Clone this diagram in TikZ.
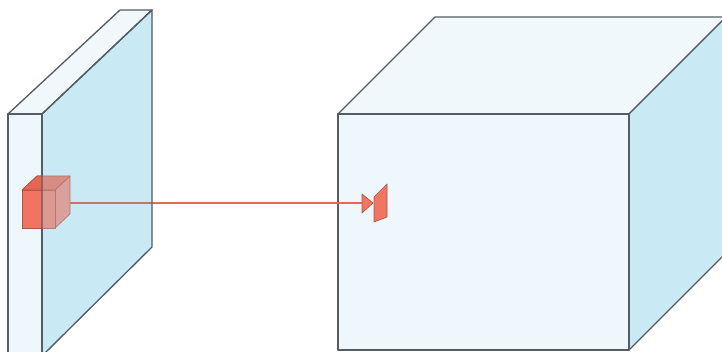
\documentclass[tikz,border=0pt]{standalone}
\definecolor{edgegray}{RGB}{85,92,98}
\definecolor{faceLight}{RGB}{238,247,251}
\definecolor{faceTop}{RGB}{240,248,252}
\definecolor{faceSide}{RGB}{201,233,245}
\definecolor{redFront}{RGB}{242,115,95}
\definecolor{redTop}{RGB}{234,100,84}
\definecolor{pinkFront}{RGB}{220,152,145}
\definecolor{pinkTop}{RGB}{214,140,130}
\definecolor{pinkSide}{RGB}{218,160,155}
\definecolor{pinkEdge}{RGB}{180,120,112}
\definecolor{redLine}{RGB}{225,105,85}
\definecolor{mutedLine}{RGB}{190,120,112}
\definecolor{kernelRed}{RGB}{240,118,98}
\tikzset{
  facebox/.style={draw=edgegray, line width=1pt, line join=round},
  redface/.style={draw=redLine!80!black, line width=0.5pt, line join=round},
  pinkface/.style={draw=pinkEdge, line width=0.5pt, line join=round},
  conn/.style={draw=redLine, line width=1pt},
  mutedconn/.style={draw=mutedLine, line width=1pt},
}
\begin{document}
\begin{tikzpicture}[x=0.75pt,y=-0.75pt]
\useasboundingbox (0,0) rectangle (722,352);
\clip (0,0) rectangle (722,352);
% ---------- left slab ----------
\coordinate (sA) at (8,114);
\coordinate (sB) at (42,114);
\coordinate (sC) at (152,10);
\coordinate (sD) at (120,10);
\coordinate (sE) at (42,356);
\coordinate (sF) at (8,356);
\coordinate (sG) at (152,247);
\fill[faceSide] (sB) -- (sC) -- (sG) -- (sE) -- cycle;
\filldraw[facebox, fill=faceTop] (sA) -- (sB) -- (sC) -- (sD) -- cycle;
\filldraw[facebox, fill=faceLight] (sA) -- (sB) -- (sE) -- (sF) -- cycle;
% ---------- small red cube ----------
\coordinate (c1) at (22,190);
\coordinate (c2) at (55,190);
\coordinate (c3) at (55,228);
\coordinate (c4) at (22,228);
\coordinate (c5) at (37,176);
\coordinate (c6) at (70,176);
\coordinate (c7) at (70,214);
\filldraw[pinkface, fill=pinkSide] (c2) -- (c6) -- (c7) -- (c3) -- cycle;
\filldraw[pinkface, fill=pinkTop] (c1) -- (c5) -- (c6) -- (c2) -- cycle;
\filldraw[pinkface, fill=pinkFront] (c1) -- (c2) -- (c3) -- (c4) -- cycle;
\begin{scope}
  \clip (0,0) rectangle (42,352);
  \filldraw[redface, fill=redTop] (c1) -- (c5) -- (c6) -- (c2) -- cycle;
  \filldraw[redface, fill=redFront] (c1) -- (c2) -- (c3) -- (c4) -- cycle;
\end{scope}
\coordinate (src) at (70,203);
\coordinate (slabx) at (152,203);
% ---------- kernel ----------
\coordinate (k1) at (362,194);
\coordinate (k2) at (362,213);
\coordinate (k3) at (373,203);
\coordinate (k4) at (374,197);
\coordinate (k5) at (387,184);
\coordinate (k6) at (387,217);
\coordinate (k7) at (374,222);
% ---------- big cube ----------
\coordinate (bA) at (338,114);
\coordinate (bB) at (629,114);
\coordinate (bC) at (629,350);
\coordinate (bD) at (338,350);
\coordinate (bE) at (435,17);
\coordinate (bF) at (726,17);
\coordinate (bG) at (726,253);
\filldraw[facebox, fill=faceTop] (bA) -- (bE) -- (bF) -- (bB) -- cycle;
\filldraw[facebox, fill=faceSide] (bB) -- (bF) -- (bG) -- (bC) -- cycle;
\filldraw[facebox, fill=faceLight] (bA) -- (bB) -- (bC) -- (bD) -- cycle;
% ---------- connector ----------
\draw[mutedconn] (src) -- (slabx);
\draw[conn] (slabx) -- (k1 |- src);
\filldraw[redface, fill=kernelRed] (k1) -- (k3) -- (k2) -- cycle;
\filldraw[redface, fill=kernelRed] (k4) -- (k5) -- (k6) -- (k7) -- cycle;
% ---------- slab side face edges ----------
\draw[facebox] (sB) -- (sC) -- (sG) -- (sE) -- cycle;
\end{tikzpicture}
\end{document}
